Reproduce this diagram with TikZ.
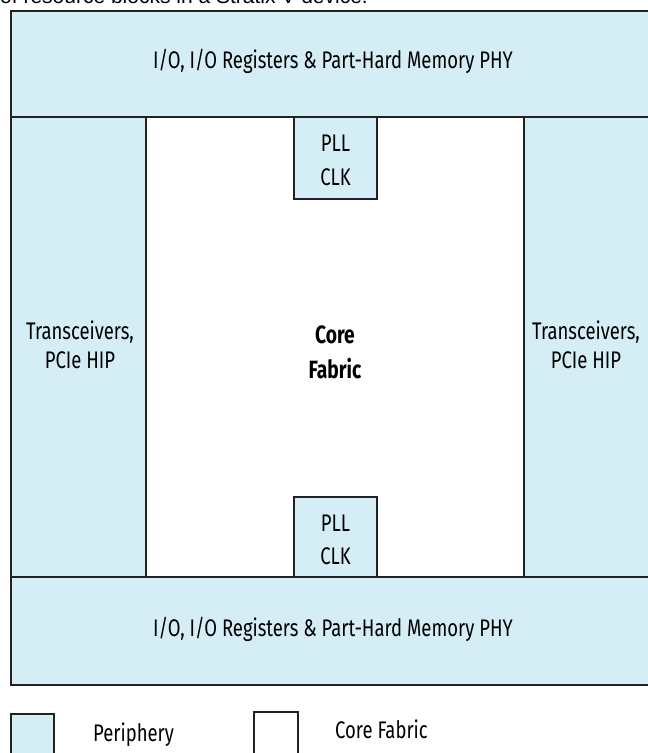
\documentclass[tikz,border=0pt]{standalone}
\usepackage{fontspec}
\setmainfont{Fira Sans}[FakeStretch=0.77]
\newfontfamily\capfont{Liberation Sans}
\definecolor{periblue}{HTML}{D5EEF6}
\definecolor{edge}{HTML}{222222}
\begin{document}
\begin{tikzpicture}[x=1pt,y=-1pt,
  blk/.style={draw=edge, line width=1.4pt, fill=periblue, inner sep=0, outer sep=0},
  corebox/.style={draw=edge, line width=1.4pt, fill=white, inner sep=0, outer sep=0},
  txt/.style={font=\fontsize{24}{30}\selectfont, inner sep=0, anchor=base, text=black},
  btxt/.style={font=\bfseries\fontsize{25}{30}\selectfont, inner sep=0, anchor=base, text=black},
  ltxt/.style={font=\fontsize{24}{30}\selectfont, inner sep=0, anchor=base west, text=black}]
\useasboundingbox (0,0) rectangle (648,753);
\clip (0,0) rectangle (648,753);
\fill[white] (0,0) rectangle (648,753);
% caption (cut off at top)
\node[font=\capfont\fontsize{21}{24}\selectfont, inner sep=0, anchor=base west] (caption) at (0,3.5) {of resource blocks in a Stratix V device.};
% periphery blocks
\node[blk, minimum width=643pt, minimum height=106pt] (topband) at (332.5,64) {};
\node[blk, minimum width=135pt, minimum height=460pt] (leftcol) at (78.5,347) {};
\node[blk, minimum width=130pt, minimum height=460pt] (rightcol) at (589,347) {};
\node[blk, minimum width=643pt, minimum height=108pt] (botband) at (332.5,631) {};
\node[blk, minimum width=83pt, minimum height=82pt] (pllT) at (335.5,158) {};
\node[blk, minimum width=83pt, minimum height=80pt] (pllB) at (335.5,537) {};
% texts
\node[txt] (topL) at (333,68.3) {I/O, I/O Registers \& Part-Hard Memory PHY};
\node[txt] (pllTa) at (335.5,151.7) {PLL};
\node[txt] (pllTb) at (335.5,185) {CLK};
\node[txt] (trLa) at (80,339) {Transceivers,};
\node[txt] (trLb) at (80,368) {PCIe HIP};
\node[btxt] (coreA) at (335,343) {Core};
\node[btxt] (coreB) at (335,378) {Fabric};
\node[txt] (trRa) at (586,339) {Transceivers,};
\node[txt] (trRb) at (586,368) {PCIe HIP};
\node[txt] (pllBa) at (335.5,531.7) {PLL};
\node[txt] (pllBb) at (335.5,564.5) {CLK};
\node[txt] (botL) at (333,636) {I/O, I/O Registers \& Part-Hard Memory PHY};
% legend
\node[blk, minimum width=43pt, minimum height=46pt] (legP) at (32.5,737) {};
\node[ltxt] (legPt) at (93,741.7) {Periphery};
\node[corebox, minimum width=44pt, minimum height=48pt] (legC) at (276,736) {};
\node[ltxt] (legCt) at (335,738.3) {Core Fabric};
\end{tikzpicture}
\end{document}
